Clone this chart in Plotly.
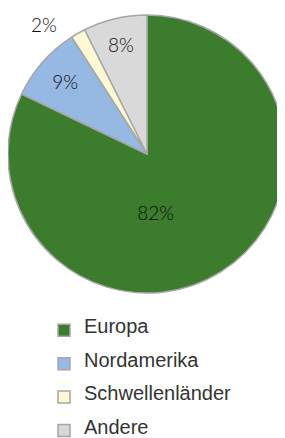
import plotly.graph_objects as go

categories = ["Europa", "Nordamerika", "Schwellenländer", "Andere"]
shares = [82.1, 8.8, 1.7, 7.4]
share_labels = ["82%" + "\u00a0" * 11, "9%", "2%" + "\u00a0" * 3, "8%"]
colors = ["#3b7d2c", "#95b9e3", "#fff9d3", "#d9d9d9"]
text_pos = ["inside", "inside", "outside", "inside"]

legend_labels = [" <br><span style='font-size:20px'>%s</span><br> " % c for c in categories]

W, H = 285, 438
cx, cy, r = 139, 146, 139

fig = go.Figure(go.Pie(
    labels=legend_labels,
    values=shares,
    text=share_labels,
    textinfo="text",
    textposition=text_pos,
    insidetextorientation="horizontal",
    sort=False,
    direction="clockwise",
    rotation=0,
    marker=dict(colors=colors, line=dict(color="#a6a6a6", width=1.5)),
    textfont=dict(family="Lato", size=19, color="#0d0d0d", weight=300),
    domain=dict(x=[(cx - r) / W, (cx + r) / W],
                y=[1 - (cy + r) / H, 1 - (cy - r) / H]),
    hoverinfo="skip",
))

fig.update_layout(
    width=W, height=H,
    margin=dict(l=0, r=0, t=0, b=0, autoexpand=False),
    paper_bgcolor="white",
    showlegend=True,
    legend=dict(
        x=36 / W, xanchor="left",
        y=1 - 300.5 / H, yanchor="top",
        font=dict(family="Liberation Sans", size=7.8, color="#333333"),
        bgcolor="rgba(0,0,0,0)",
    ),
)

fig.write_html("out.html")
